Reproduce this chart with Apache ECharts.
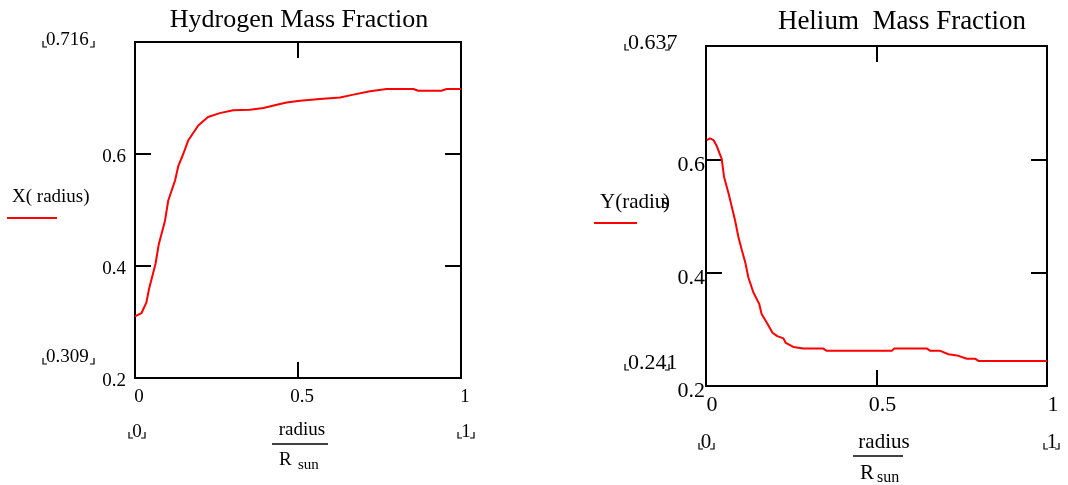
<!DOCTYPE html>
<html>
<head>
<meta charset="utf-8">
<script src="https://cdn.jsdelivr.net/npm/echarts@6/dist/echarts.min.js"></script>
<style>
  html, body { margin: 0; padding: 0; background: #fff; }
  #chart { width: 1068px; height: 485px; }
</style>
</head>
<body>
<div id="chart"></div>
<script>
  // hydrogen mass fraction X(radius)
  const hydrogenR = [0, 0.02, 0.035, 0.043, 0.063, 0.073, 0.092, 0.102, 0.123, 0.133, 0.148, 0.163, 0.194, 0.224, 0.26, 0.301, 0.353, 0.394, 0.435, 0.465, 0.506, 0.567, 0.629, 0.67, 0.721, 0.772, 0.854, 0.869, 0.94, 0.956, 1]
  const hydrogenX = [0.310, 0.316, 0.335, 0.359, 0.404, 0.439, 0.481, 0.517, 0.553, 0.579, 0.600, 0.624, 0.651, 0.666, 0.673, 0.678, 0.679, 0.682, 0.688, 0.692, 0.695, 0.698, 0.701, 0.706, 0.712, 0.716, 0.716, 0.713, 0.713, 0.716, 0.716]

  // helium mass fraction Y(radius)
  const heliumR = [0.002, 0.012, 0.022, 0.031, 0.046, 0.053, 0.066, 0.085, 0.095, 0.105, 0.116, 0.124, 0.139, 0.156, 0.163, 0.178, 0.195, 0.209, 0.227, 0.234, 0.256, 0.286, 0.344, 0.354, 0.545, 0.552, 0.648, 0.658, 0.687, 0.711, 0.736, 0.765, 0.79, 0.8, 1]
  const heliumY = [0.634, 0.637, 0.634, 0.624, 0.601, 0.569, 0.540, 0.493, 0.463, 0.440, 0.416, 0.392, 0.365, 0.345, 0.327, 0.312, 0.294, 0.288, 0.284, 0.276, 0.269, 0.266, 0.266, 0.262, 0.262, 0.266, 0.266, 0.262, 0.262, 0.256, 0.254, 0.248, 0.248, 0.244, 0.244]

  const yTicks = { min: 0.2, max: 0.8, interval: 0.2 }
  const xTicks = { min: 0, max: 1, interval: 0.5 }

  const serif = '"Liberation Serif", "Times New Roman", serif'
  const chart = echarts.init(document.getElementById('chart'))

  function pairs(xs, ys) {
    return xs.map((x, i) => [x, ys[i]])
  }

  function xAxisOf(grid, pos, labels, size, margin, pad) {
    return {
      type: 'value', gridIndex: grid, position: pos,
      min: xTicks.min, max: xTicks.max, interval: xTicks.interval,
      axisLine: { show: false, onZero: false },
      axisTick: { show: true, inside: true, length: 16, lineStyle: { color: '#000', width: 2 } },
      axisLabel: { show: labels, margin: margin, color: '#000', fontFamily: serif, fontSize: size, padding: pad },
      splitLine: { show: false }
    }
  }

  // labels sit a little below their tick in the original, lh pushes them down
  function yAxisOf(grid, pos, labels, size, margin, lh) {
    return {
      type: 'value', gridIndex: grid, position: pos,
      min: yTicks.min, max: yTicks.max, interval: yTicks.interval,
      axisLine: { show: false, onZero: false },
      axisTick: { show: true, inside: true, length: 16, lineStyle: { color: '#000', width: 2 } },
      axisLabel: {
        show: labels, showMaxLabel: false, margin: margin, color: '#000',
        fontFamily: serif, fontSize: size, verticalAlign: 'top', lineHeight: lh
      },
      splitLine: { show: false }
    }
  }

  // Mathcad placeholder corner marks
  function bracket(xl, xr, yb) {
    const st = { stroke: '#000', lineWidth: 1.2, fill: null }
    return [
      { type: 'polyline', shape: { points: [[xl, yb - 6], [xl, yb], [xl + 4, yb]] }, style: st },
      { type: 'polyline', shape: { points: [[xr, yb - 6], [xr, yb], [xr - 4, yb]] }, style: st }
    ]
  }

  function txt(x, y, s, size, align) {
    return {
      type: 'text', x: x, y: y,
      style: { text: s, fill: '#000', font: size + 'px ' + serif, align: align || 'left', verticalAlign: 'middle' }
    }
  }

  function hline(x1, x2, y, color, w) {
    return { type: 'line', shape: { x1: x1, y1: y, x2: x2, y2: y }, style: { stroke: color, lineWidth: w } }
  }

  const graphics = [
    // left panel
    txt(299, 20, 'Hydrogen Mass Fraction', 26, 'center'),
    txt(46, 40, '0.716', 19),
    ...bracket(43, 94, 47),
    txt(46, 357, '0.309', 19),
    ...bracket(43, 94, 364),
    txt(12, 197, 'X( radius)', 19),
    hline(7, 57, 218, '#ff0000', 2),
    txt(137, 432, '0', 19, 'center'),
    ...bracket(129, 145, 438),
    txt(466, 432, '1', 19, 'center'),
    ...bracket(458, 474, 438),
    txt(302, 430, 'radius', 19, 'center'),
    hline(272, 328, 444, '#000', 1.5),
    txt(279, 460, 'R', 19),
    txt(298, 465, 'sun', 15),
    // right panel
    txt(902, 22, 'Helium  Mass Fraction', 27, 'center'),
    txt(628, 43, '0.637', 22),
    ...bracket(625, 669, 50),
    txt(628, 363, '0.241', 22),
    ...bracket(625, 669, 370),
    txt(600, 202, 'Y(radiu', 21),
    txt(661, 202, 's', 21),
    txt(663, 202, ')', 21),
    hline(594, 637, 223, '#ff0000', 2),
    txt(706, 442, '0', 21, 'center'),
    ...bracket(699, 714, 449),
    txt(1052, 442, '1', 21, 'center'),
    ...bracket(1044, 1059, 449),
    txt(884, 442, 'radius', 21, 'center'),
    hline(853, 903, 456, '#000', 1.5),
    txt(860, 473, 'R', 21),
    txt(877, 478, 'sun', 16)
  ]

  chart.setOption({
    backgroundColor: '#fff',
    animation: false,
    grid: [
      { left: 135, top: 42, width: 326, height: 336, show: true, borderColor: '#000', borderWidth: 2, backgroundColor: 'transparent' },
      { left: 706, top: 46, width: 341, height: 340, show: true, borderColor: '#000', borderWidth: 2, backgroundColor: 'transparent' }
    ],
    xAxis: [
      xAxisOf(0, 'bottom', true, 19, 10, [0, 0, 0, 8]),
      xAxisOf(0, 'top', false, 19, 8, 0),
      xAxisOf(1, 'bottom', true, 22, 8, [0, 0, 0, 12]),
      xAxisOf(1, 'top', false, 22, 8, 0)
    ],
    yAxis: [
      yAxisOf(0, 'left', true, 19, 9, 7),
      yAxisOf(0, 'right', false, 19, 9, 7),
      yAxisOf(1, 'left', true, 22, 1, 11),
      yAxisOf(1, 'right', false, 22, 1, 11)
    ],
    graphic: graphics,
    series: [
      {
        name: 'X(radius)', type: 'line', xAxisIndex: 0, yAxisIndex: 0,
        data: pairs(hydrogenR, hydrogenX),
        showSymbol: false, symbol: 'none',
        lineStyle: { color: '#ff0000', width: 2 }
      },
      {
        name: 'Y(radius)', type: 'line', xAxisIndex: 2, yAxisIndex: 2,
        data: pairs(heliumR, heliumY),
        showSymbol: false, symbol: 'none',
        lineStyle: { color: '#ff0000', width: 2 }
      }
    ]
  })
</script>
</body>
</html>
